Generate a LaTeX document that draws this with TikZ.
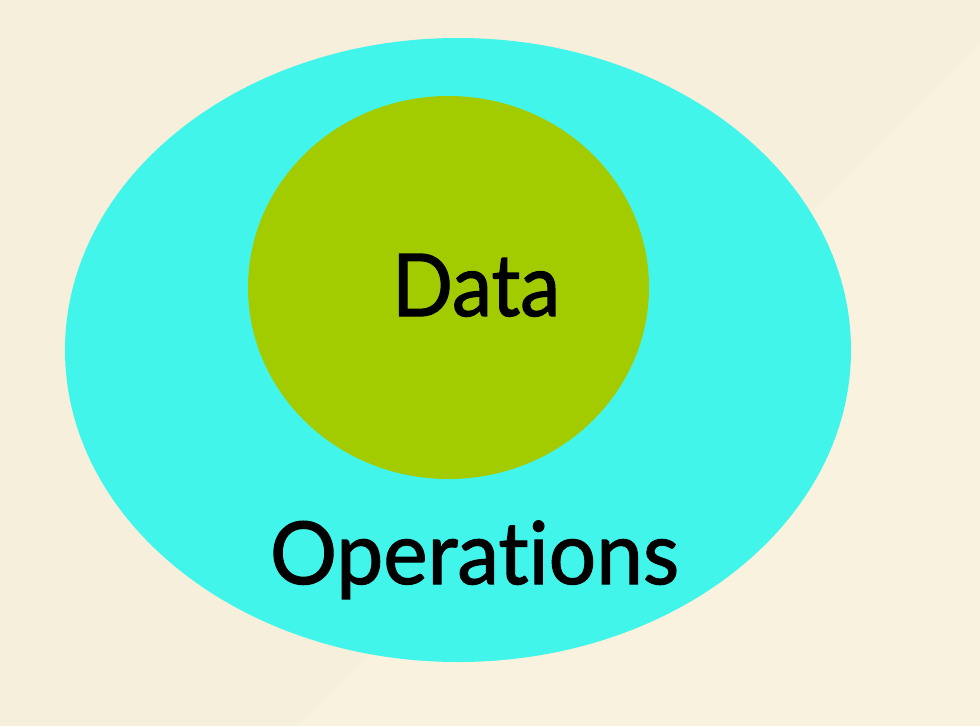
\documentclass[tikz,border=0pt]{standalone}
\usepackage{fontspec}
\setmainfont{Lato}[Ligatures=CommonOff, BoldFont=Lato, BoldFeatures={FakeBold=1.4}]
\usepackage{graphicx}
\definecolor{bgA}{RGB}{246,239,219}
\definecolor{bgB}{RGB}{249,242,222}
\definecolor{opcyan}{RGB}{66,245,235}
\definecolor{datagreen}{RGB}{163,204,0}
\tikzset{
  blob/.style={draw=none},
  lbl/.style={inner sep=0pt, outer sep=0pt, text=black, anchor=base west, font=\bfseries}
}
\begin{document}
\begin{tikzpicture}[x=0.75pt,y=-0.75pt]
\useasboundingbox (0,0) rectangle (980,726);
\fill[bgA] (0,0) rectangle (980,726);
\fill[bgB] (980,43) -- (980,726) -- (297,726) -- cycle;
\fill[blob, opcyan] (458,350) ellipse [x radius=393, y radius=312];
\fill[blob, datagreen] (448.5,287.5) ellipse [x radius=200.5, y radius=191.5];
\node[lbl] (data) at (392,316) {\resizebox{126pt}{46.5pt}{Data}};
\node[lbl] (ops) at (270,584) {\resizebox{306.75pt}{47.5pt}{Operations}};
\end{tikzpicture}
\end{document}
